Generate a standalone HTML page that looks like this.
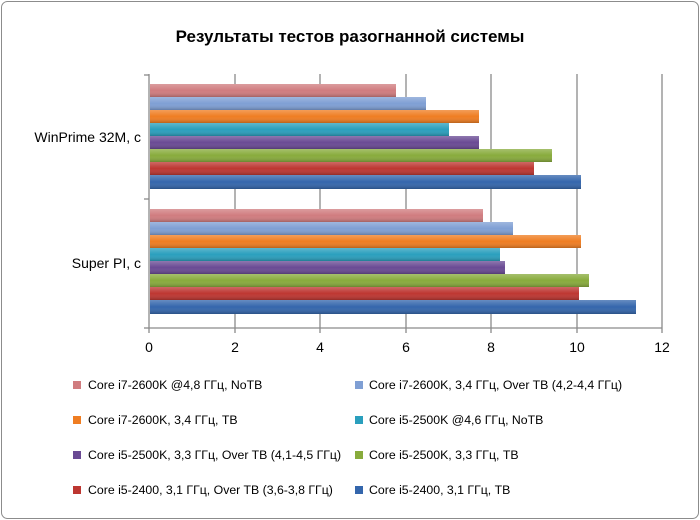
<!DOCTYPE html>
<html><head><meta charset="utf-8"><style>
body{margin:0;background:#fff}
svg{display:block;font-family:"Liberation Sans",sans-serif}
</style></head><body>
<svg width="700" height="520" viewBox="0 0 700 520" xmlns="http://www.w3.org/2000/svg">
<defs>
<linearGradient id="g" x1="0" y1="0" x2="0" y2="1">
<stop offset="0" stop-color="#fff" stop-opacity="0.25"/>
<stop offset="0.5" stop-color="#fff" stop-opacity="0"/>
<stop offset="1" stop-color="#000" stop-opacity="0.22"/>
</linearGradient>
</defs>
<rect x="1.5" y="1.5" width="697" height="517" rx="6" fill="#fff" stroke="#8c8c8c"/>
<text x="350" y="42" text-anchor="middle" font-size="17" font-weight="bold">Результаты тестов разогнанной системы</text>
<g stroke="#8a8a8a" stroke-width="1.3">
<line x1="235" y1="74" x2="235" y2="333"/>
<line x1="320" y1="74" x2="320" y2="333"/>
<line x1="406" y1="74" x2="406" y2="333"/>
<line x1="491" y1="74" x2="491" y2="333"/>
<line x1="577" y1="74" x2="577" y2="333"/>
<line x1="662" y1="74" x2="662" y2="333"/>
<line x1="149" y1="74" x2="149" y2="333"/>
<line x1="149" y1="328" x2="662" y2="328"/>
<line x1="144" y1="75" x2="149" y2="75"/>
<line x1="144" y1="199" x2="149" y2="199"/>
<line x1="144" y1="328" x2="149" y2="328"/>
</g>
<g font-size="14" fill="#000">
<text x="141" y="142" text-anchor="end">WinPrime 32M, с</text>
<text x="141" y="268" text-anchor="end">Super PI, с</text>
<g text-anchor="middle">
<text x="149" y="352">0</text><text x="235" y="352">2</text><text x="320" y="352">4</text>
<text x="406" y="352">6</text><text x="491" y="352">8</text><text x="577" y="352">10</text><text x="662" y="352">12</text>
</g>
</g>
<g font-size="12.3">
<rect x="73" y="381" width="8" height="8" fill="#d07c7f"/><text x="88" y="389">Core i7-2600K @4,8 ГГц, NoTB</text>
<rect x="355" y="381" width="8" height="8" fill="#7f9fd4"/><text x="369" y="389">Core i7-2600K, 3,4 ГГц, Over TB (4,2-4,4 ГГц)</text>
<rect x="73" y="416" width="8" height="8" fill="#ef7d22"/><text x="88" y="424">Core i7-2600K, 3,4 ГГц, TB</text>
<rect x="355" y="416" width="8" height="8" fill="#2a9fbd"/><text x="369" y="424">Core i5-2500K @4,6 ГГц, NoTB</text>
<rect x="73" y="451" width="8" height="8" fill="#6a4a94"/><text x="88" y="459">Core i5-2500K, 3,3 ГГц, Over TB (4,1-4,5 ГГц)</text>
<rect x="355" y="451" width="8" height="8" fill="#88ab3c"/><text x="369" y="459">Core i5-2500K, 3,3 ГГц, TB</text>
<rect x="73" y="486" width="8" height="8" fill="#bd3631"/><text x="88" y="494">Core i5-2400, 3,1 ГГц, Over TB (3,6-3,8 ГГц)</text>
<rect x="355" y="486" width="8" height="8" fill="#3466ac"/><text x="369" y="494">Core i5-2400, 3,1 ГГц, TB</text>
</g>
<g>
<rect x="150" y="84" width="246" height="13" fill="#d07c7f"/>
<rect x="150" y="97" width="276" height="13" fill="#7f9fd4"/>
<rect x="150" y="110" width="329" height="13" fill="#ef7d22"/>
<rect x="150" y="123" width="299" height="13" fill="#2a9fbd"/>
<rect x="150" y="136" width="329" height="13" fill="#6a4a94"/>
<rect x="150" y="149" width="402" height="13" fill="#88ab3c"/>
<rect x="150" y="162" width="384" height="13" fill="#bd3631"/>
<rect x="150" y="175" width="431" height="14" fill="#3466ac"/>
<rect x="150" y="209" width="333" height="13" fill="#d07c7f"/>
<rect x="150" y="222" width="363" height="13" fill="#7f9fd4"/>
<rect x="150" y="235" width="431" height="13" fill="#ef7d22"/>
<rect x="150" y="248" width="350" height="13" fill="#2a9fbd"/>
<rect x="150" y="261" width="355" height="13" fill="#6a4a94"/>
<rect x="150" y="274" width="439" height="13" fill="#88ab3c"/>
<rect x="150" y="287" width="429" height="13" fill="#bd3631"/>
<rect x="150" y="300" width="486" height="14" fill="#3466ac"/>
</g>
<g fill="url(#g)">
<rect x="150" y="84" width="246" height="13"/><rect x="150" y="97" width="276" height="13"/>
<rect x="150" y="110" width="329" height="13"/><rect x="150" y="123" width="299" height="13"/>
<rect x="150" y="136" width="329" height="13"/><rect x="150" y="149" width="402" height="13"/>
<rect x="150" y="162" width="384" height="13"/><rect x="150" y="175" width="431" height="14"/>
<rect x="150" y="209" width="333" height="13"/><rect x="150" y="222" width="363" height="13"/>
<rect x="150" y="235" width="431" height="13"/><rect x="150" y="248" width="350" height="13"/>
<rect x="150" y="261" width="355" height="13"/><rect x="150" y="274" width="439" height="13"/>
<rect x="150" y="287" width="429" height="13"/><rect x="150" y="300" width="486" height="14"/>
</g>
</svg>
</body></html>
